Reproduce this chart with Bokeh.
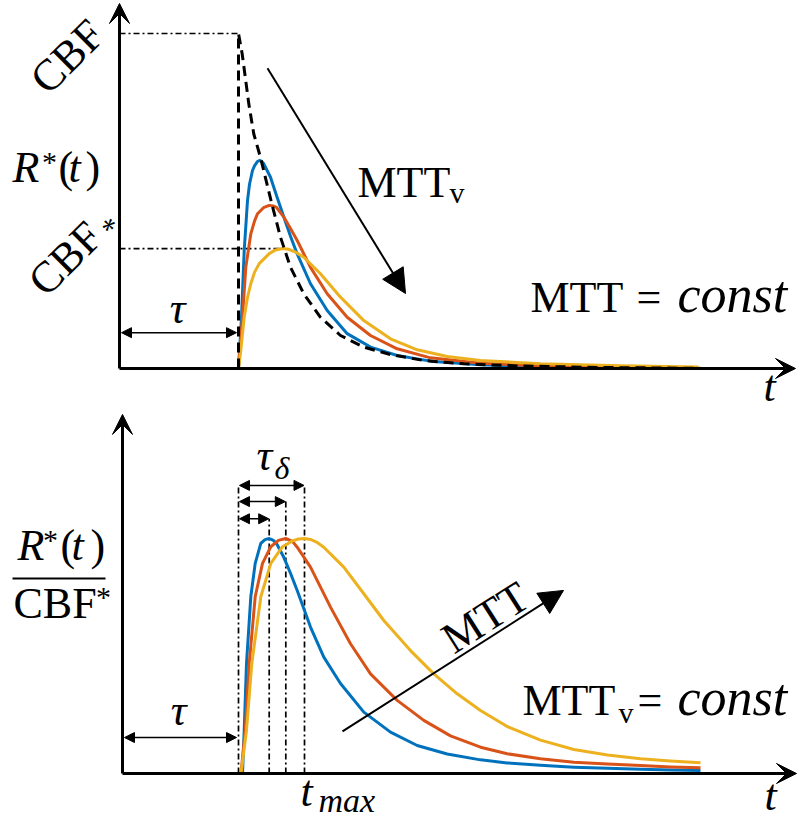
from math import pi
from bokeh.plotting import figure
from bokeh.models import Range1d, Arrow, NormalHead, VeeHead
from bokeh.layouts import column
from bokeh.core.properties import value
from bokeh.embed import file_html
from bokeh.resources import INLINE

FONT = "Liberation Serif"
BLUE, ORANGE, YELLOW = "#0072BD", "#D95319", "#EDB120"

# ---------------- top panel: MTT = const, MTT_v varies ----------------
top_tau = 11.9
top_cbf = 1.0
top_cbf_star = 0.358

top_res_t = [11.9, 11.9, 12.27, 12.93, 13.43, 14.1, 15.27, 16.1, 17.1, 18.43, 20.1,
             22.1, 24.43, 27.1, 30.43, 34.43, 40.1, 48.1, 58.1]
top_res_r = [0.0, 1.0, 0.939, 0.790, 0.700, 0.630, 0.487, 0.392, 0.302, 0.223, 0.153,
             0.0985, 0.0636, 0.0418, 0.0239, 0.0140, 0.0075, 0.003, 0.0006]

top_blue_t = [11.9, 12.2, 12.47, 12.8, 13.0, 13.3, 13.5, 13.8, 14.0, 14.2, 14.43, 15.1, 15.75,
              16.43, 17.1, 17.77, 19.1, 20.77, 22.77, 25.1, 27.77, 31.1, 36.1, 42.1, 50.1, 57.9]
top_blue_r = [0.0, 0.153, 0.352, 0.501, 0.550, 0.591, 0.605, 0.618, 0.621, 0.619, 0.611, 0.571,
              0.512, 0.452, 0.395, 0.342, 0.253, 0.173, 0.104, 0.064, 0.039, 0.022, 0.011,
              0.005, 0.002, 0.0006]

top_red_t = [11.9, 12.3, 12.63, 13.13, 13.5, 13.8, 14.4, 14.97, 15.4, 15.7, 16.43, 17.1, 17.77,
             19.1, 20.77, 22.77, 25.1, 27.77, 31.1, 36.1, 42.1, 50.1, 57.9]
top_red_r = [0.0, 0.153, 0.302, 0.402, 0.440, 0.462, 0.480, 0.487, 0.485, 0.481, 0.452, 0.418,
             0.382, 0.302, 0.223, 0.153, 0.0985, 0.0588, 0.0319, 0.0158, 0.0075, 0.0036, 0.0015]

top_yel_t = [11.9, 12.13, 12.47, 12.8, 13.13, 13.5, 13.97, 14.97, 15.6, 16.3, 16.9, 17.5, 18.43,
             20.1, 22.1, 24.43, 27.1, 29.77, 32.77, 36.1, 42.1, 50.1, 57.9]
top_yel_r = [0.0, 0.054, 0.153, 0.212, 0.253, 0.287, 0.313, 0.343, 0.354, 0.358, 0.356, 0.349,
             0.332, 0.283, 0.213, 0.143, 0.0887, 0.0558, 0.0358, 0.024, 0.014, 0.008, 0.0045]

# ---------------- bottom panel: MTT_v = const, MTT varies ----------------
bot_tau = 11.6
bot_tmax = [14.67, 16.33, 18.2]          # blue, red, yellow peak times
bot_tick_top = [1.084, 1.157, 1.226]     # heights of the t_max markers

bot_blue_t = [12.0, 12.17, 12.4, 12.83, 13.27, 13.83, 14.25, 14.67, 15.05, 15.4, 16.13, 16.8,
              17.47, 18.8, 20.13, 21.8, 24.13, 26.8, 29.47, 32.47, 35.8, 38.47, 41.8, 45.13,
              48.5, 51.8, 54.8, 57.8]
bot_blue_r = [0.0, 0.183, 0.468, 0.752, 0.894, 0.979, 0.995, 1.0, 0.993, 0.979, 0.920, 0.852,
              0.779, 0.623, 0.495, 0.383, 0.261, 0.176, 0.119, 0.083, 0.058, 0.045, 0.035, 0.027,
              0.022, 0.018, 0.015, 0.013]

bot_red_t = [11.85, 12.27, 12.67, 13.27, 14.0, 14.83, 15.6, 16.33, 17.0, 17.47, 18.8, 20.8,
             22.8, 24.8, 27.47, 30.13, 32.8, 35.8, 38.47, 41.8, 45.13, 48.5, 51.8, 54.8, 57.8]
bot_red_r = [0.0, 0.183, 0.468, 0.752, 0.894, 0.965, 0.992, 1.0, 0.988, 0.963, 0.878, 0.708,
             0.552, 0.424, 0.311, 0.226, 0.160, 0.112, 0.084, 0.063, 0.048, 0.040, 0.034, 0.028,
             0.024]

bot_yel_t = [11.85, 12.4, 12.93, 13.83, 14.83, 16.0, 17.0, 17.6, 18.2, 18.8, 19.4, 20.13,
             22.13, 24.13, 26.13, 28.8, 31.13, 33.47, 35.8, 38.47, 41.8, 45.13, 48.5, 51.8,
             54.8, 57.8]
bot_yel_r = [0.0, 0.183, 0.468, 0.752, 0.894, 0.965, 0.99, 0.998, 1.0, 0.996, 0.985, 0.963,
             0.878, 0.765, 0.651, 0.523, 0.424, 0.339, 0.268, 0.200, 0.142, 0.102, 0.079, 0.063,
             0.053, 0.0455]


def panel(xr, yr, h):
    p = figure(width=797, height=h, x_range=Range1d(*xr), y_range=Range1d(*yr),
               x_axis_type=None, y_axis_type=None, toolbar_location=None,
               output_backend="svg", min_border=0, outline_line_color=None,
               background_fill_color="white", border_fill_color="white")
    return p


def txt(p, x, y, s, size, italic=False, align="left", angle=0.0):
    p.text(x=[x], y=[y], text=[s], text_font=value(FONT),
           text_font_size=value(f"{size}px"),
           text_font_style="italic" if italic else "normal",
           text_align=align, text_baseline="middle", angle=angle, text_color="black")


def arrow(p, xs, ys, xe, ye, kind="normal", size=10, both=False, lw=1.5):
    def head():
        if kind == "vee":
            return VeeHead(size=size, fill_color="black", line_color="black", line_width=1)
        return NormalHead(size=size, fill_color="black", line_color="black", line_width=1)
    p.add_layout(Arrow(x_start=xs, y_start=ys, x_end=xe, y_end=ye, end=head(),
                       start=head() if both else None, line_color="black", line_width=lw))


DASHDOT = "6 3 2 3"

# ======================= TOP (image rows 0..412) =======================
p1 = panel((-11.9, 67.8), (-0.1313, 1.0985), 412)

p1.line([0, top_tau], [top_cbf, top_cbf], line_color="black", line_width=1.7, line_dash=DASHDOT)
p1.line([0, top_yel_t[9]], [top_cbf_star, top_cbf_star], line_color="black",
        line_width=1.7, line_dash=DASHDOT)

p1.line(top_blue_t, top_blue_r, line_color=BLUE, line_width=3, line_join="round")
p1.line(top_red_t, top_red_r, line_color=ORANGE, line_width=3, line_join="round")
p1.line(top_yel_t, top_yel_r, line_color=YELLOW, line_width=3, line_join="round")
p1.line(top_res_t, top_res_r, line_color="black", line_width=3, line_dash="10 6")

# axes
arrow(p1, 0, 0, 0, 1.0896, kind="vee", size=20, lw=3)
arrow(p1, 0, 0, 67.6, 0, kind="vee", size=20, lw=3)

# tau
arrow(p1, 0.2, 0.107, top_tau - 0.2, 0.107, size=10, both=True, lw=1.5)
txt(p1, 5.8, 0.179, "τ", 44, italic=True, align="center")

# MTT_v arrow
arrow(p1, 14.8, 0.896, 28.6, 0.224, size=24, lw=2)
txt(p1, 23.8, 0.555, "MTT", 44)
txt(p1, 33.0, 0.526, "v", 30)

txt(p1, 41.1, 0.212, "MTT", 44)
txt(p1, 51.7, 0.212, "=", 44)
txt(p1, 55.8, 0.220, "const", 52, italic=True)
txt(p1, 64.4, -0.054, "t", 44, italic=True)

# left labels
txt(p1, -5.2, 0.931, "CBF", 44, align="center", angle=pi / 4)
txt(p1, -10.7, 0.600, "R", 44, italic=True)
txt(p1, -7.0, 0.617, "*", 30, align="center")
txt(p1, -6.1, 0.600, "(", 44)
txt(p1, -5.1, 0.600, "t", 44, italic=True)
txt(p1, -3.4, 0.600, ")", 44)
txt(p1, -5.4, 0.328, "CBF", 44, align="center", angle=pi / 4)
txt(p1, -0.8, 0.421, "*", 30, align="center", angle=pi / 4)

# ======================= BOTTOM (image rows 412..823) =======================
p2 = panel((-12.2, 67.5), (-0.2128, 1.5362), 411)

p2.line([bot_tau, bot_tau], [0, bot_tick_top[2]], line_color="black", line_width=1.7, line_dash=DASHDOT)
for tm, top in zip(bot_tmax, bot_tick_top):
    p2.line([tm, tm], [0, top], line_color="black", line_width=1.7, line_dash=DASHDOT)
    arrow(p2, bot_tau + 0.1, top, tm - 0.05, top, size=10, both=True, lw=1.5)

p2.line(bot_blue_t, bot_blue_r, line_color=BLUE, line_width=3, line_join="round")
p2.line(bot_red_t, bot_red_r, line_color=ORANGE, line_width=3, line_join="round")
p2.line(bot_yel_t, bot_yel_r, line_color=YELLOW, line_width=3, line_join="round")

# axes
arrow(p2, 0, 0, 0, 1.528, kind="vee", size=20, lw=3)
arrow(p2, 0, 0, 67.4, 0, kind="vee", size=20, lw=3)

# tau, tau_delta, t_max
arrow(p2, 0.2, 0.153, bot_tau - 0.2, 0.153, size=10, both=True, lw=1.5)
txt(p2, 5.6, 0.268, "τ", 44, italic=True, align="center")
txt(p2, 13.4, 1.353, "τ", 44, italic=True)
txt(p2, 15.2, 1.302, "δ", 32, italic=True)
txt(p2, 17.8, -0.077, "t", 44, italic=True)
txt(p2, 19.6, -0.117, "max", 34, italic=True)

# MTT arrow
arrow(p2, 22.0, 0.179, 44.1, 0.779, size=24, lw=2)
txt(p2, 36.3, 0.664, "MTT", 44, align="center", angle=0.567)

txt(p2, 40.0, 0.311, "MTT", 44)
txt(p2, 49.6, 0.260, "v", 30)
txt(p2, 51.5, 0.311, "=", 44)
txt(p2, 55.5, 0.322, "const", 52, italic=True)
txt(p2, 64.2, -0.094, "t", 44, italic=True)

# fraction label
txt(p2, -10.5, 0.970, "R", 44, italic=True)
txt(p2, -7.2, 0.996, "*", 30, align="center")
txt(p2, -6.2, 0.970, "(", 44)
txt(p2, -5.1, 0.970, "t", 44, italic=True)
txt(p2, -3.2, 0.970, ")", 44)
p2.line([-11.0, -1.7], [0.830, 0.830], line_color="black", line_width=2)
txt(p2, -10.9, 0.723, "CBF", 44)
txt(p2, -1.9, 0.752, "*", 30, align="center")

layout = column(p1, p2)
open("out.html", "w").write(file_html(layout, INLINE, title="Residue functions"))
